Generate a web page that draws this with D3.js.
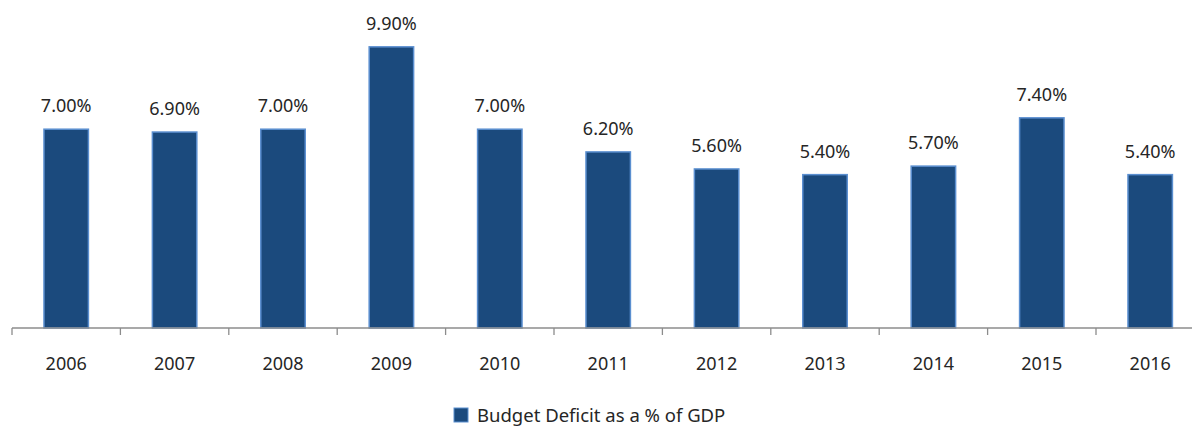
<!DOCTYPE html>
<html>
<head>
<meta charset="utf-8">
<script src="https://cdn.jsdelivr.net/npm/d3@7"></script>
<style>
  body { margin: 0; background: #fff; }
  svg { display: block; font-family: "Noto Sans", "Open Sans", sans-serif; }
</style>
</head>
<body>
<div id="chart"></div>
<script>
// Data
const years = ['2006', '2007', '2008', '2009', '2010', '2011', '2012', '2013', '2014', '2015', '2016'];
const deficit = [7.0, 6.9, 7.0, 9.9, 7.0, 6.2, 5.6, 5.4, 5.7, 7.4, 5.4];
const seriesName = 'Budget Deficit as a % of GDP';

const width = 1192, height = 426;

const svg = d3.select('#chart')
    .append('svg')
    .attr('width', width)
    .attr('height', height);

const x = d3.scaleBand()
    .domain(years)
    .range([12, 12 + 108.4 * years.length])
    .paddingInner(0.59)
    .paddingOuter(0.295);

const y = d3.scaleLinear()
    .domain([0, 10])
    .range([328, 44]);

// bars
svg.selectAll('rect.bar')
    .data(years)
    .enter().append('rect')
    .attr('class', 'bar')
    .attr('x', d => x(d))
    .attr('y', (d, i) => y(deficit[i]))
    .attr('width', x.bandwidth())
    .attr('height', (d, i) => y(0) - y(deficit[i]))
    .attr('fill', '#1b4a7d')
    .attr('stroke', '#5b8fd0')
    .attr('stroke-width', 1.5);

// value labels
svg.selectAll('text.val')
    .data(years)
    .enter().append('text')
    .attr('class', 'val')
    .attr('x', d => x(d) + x.bandwidth() / 2)
    .attr('y', (d, i) => y(deficit[i]) - 17)
    .attr('text-anchor', 'middle')
    .style('font-size', '18px')
    .attr('fill', '#262626')
    .text((d, i) => deficit[i].toFixed(2) + '%');

// x axis with ticks at category boundaries
const axis = svg.append('g').attr('transform', `translate(0, ${y(0)})`);
const step = x.step();
const start = x.range()[0];
axis.append('line')
    .attr('x1', start).attr('x2', x.range()[1])
    .attr('stroke', '#8c8c8c').attr('stroke-width', 1.3);
axis.selectAll('line.tick')
    .data(d3.range(years.length + 1))
    .enter().append('line')
    .attr('class', 'tick')
    .attr('x1', i => start + i * step)
    .attr('x2', i => start + i * step)
    .attr('y1', 0).attr('y2', 7)
    .attr('stroke', '#8c8c8c').attr('stroke-width', 1.3);
axis.selectAll('text')
    .data(years)
    .enter().append('text')
    .attr('x', d => x(d) + x.bandwidth() / 2)
    .attr('y', 42)
    .attr('text-anchor', 'middle')
    .style('font-size', '18px')
    .attr('fill', '#262626')
    .text(d => d);

// legend
const legend = svg.append('g');
legend.append('rect')
    .attr('x', 454).attr('y', 408)
    .attr('width', 14).attr('height', 14)
    .attr('fill', '#1b4a7d')
    .attr('stroke', '#5b8fd0')
    .attr('stroke-width', 1);
legend.append('text')
    .attr('x', 477).attr('y', 422)
    .style('font-size', '18.5px')
    .attr('fill', '#262626')
    .text(seriesName);
</script>
</body>
</html>
